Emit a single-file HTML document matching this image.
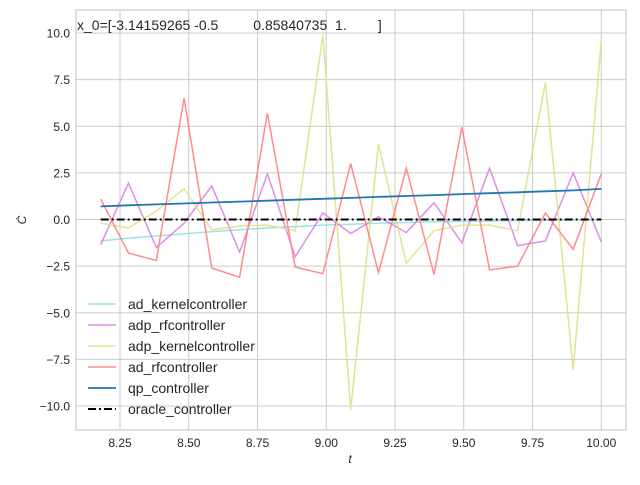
<!DOCTYPE html>
<html><head><meta charset="utf-8"><style>
body{margin:0;background:#fff}
svg text{font-family:"Liberation Sans","DejaVu Sans",sans-serif;}
</style></head><body>
<svg id="c" width="640" height="480" xmlns="http://www.w3.org/2000/svg"></svg>
<script>
const tVals=[8.18,8.281,8.382,8.483,8.584,8.685,8.786,8.887,8.988,9.089,9.19,9.291,9.392,9.493,9.594,9.696,9.797,9.898,10.0];
const adKernel=[-1.15,-1.0,-0.88,-0.77,-0.65,-0.55,-0.45,-0.38,-0.3,-0.25,-0.2,-0.16,-0.12,-0.1,-0.08,-0.06,-0.04,-0.02,-0.01];
const adpRf=[-1.35,1.95,-1.5,-0.2,1.8,-1.75,2.45,-2.0,0.35,-0.75,0.15,-0.7,0.9,-1.25,2.75,-1.4,-1.15,2.5,-1.2];
const adpKernel=[-0.2,-0.45,0.45,1.65,-0.55,-0.35,-0.3,-0.6,9.9,-10.2,4.05,-2.35,-0.6,-0.3,-0.3,-0.6,7.35,-8.05,9.6];
const adRf=[1.1,-1.8,-2.2,6.5,-2.6,-3.1,5.7,-2.55,-2.9,3.0,-2.85,2.75,-2.95,4.95,-2.7,-2.5,0.35,-1.6,2.45];
const qp=[0.7,0.76,0.81,0.86,0.91,0.96,1.01,1.06,1.11,1.16,1.21,1.26,1.31,1.36,1.41,1.46,1.51,1.56,1.64];
const oracle=[0,0,0,0,0,0,0,0,0,0,0,0,0,0,0,0,0,0,0];
const xTicks=[8.25,8.5,8.75,9.0,9.25,9.5,9.75,10.0];
const yTicks=[-10,-7.5,-5,-2.5,0,2.5,5,7.5,10];
const L=76,R=626,T=10,B=430;
const sx=v=>120+(v-8.25)*275;
const sy=v=>219.5-v*18.65;
const svg=document.getElementById('c');
const NS='http://www.w3.org/2000/svg';
function mk(tag,attrs,parent){const e=document.createElementNS(NS,tag);for(const k in attrs)e.setAttribute(k,attrs[k]);(parent||svg).appendChild(e);return e;}
const fmt=v=>(v<0?'\u2212':'')+Math.abs(v).toFixed(v%1===0&&Math.abs(v)>=10?1:(Math.abs(v)%1===0?1:(String(Math.abs(v)).split('.')[1]||'').length<2?1:2));
for(const v of xTicks){
 const g=mk('line',{x1:sx(v),x2:sx(v),y1:T,y2:B,stroke:'#cccccc','stroke-width':1});
 
 const t=mk('text',{x:sx(v),y:447,'text-anchor':'middle','font-size':12,fill:'#262626'});t.textContent=v.toFixed(2);
 
}
for(const v of yTicks){
 const g=mk('line',{x1:L,x2:R,y1:sy(v),y2:sy(v),stroke:'#cccccc','stroke-width':1});
 
 const t=mk('text',{x:70,y:sy(v)+4.5,'text-anchor':'end','font-size':12,fill:'#262626'});t.textContent=(v<0?'\u2212':'')+Math.abs(v).toFixed(1);
 
}
const fr=mk('rect',{x:L,y:T,width:R-L,height:B-T,fill:'none',stroke:'#cccccc','stroke-width':1.2});

const series=[
 ['ad_kernelcontroller',adKernel,'#7fdfe0',0.8,1.5,''],
 ['adp_rfcontroller',adpRf,'#d87be0',0.85,1.5,''],
 ['adp_kernelcontroller',adpKernel,'#e0e08a',0.9,1.5,''],
 ['ad_rfcontroller',adRf,'#ff8080',0.9,1.5,''],
 ['qp_controller',qp,'#1f77b4',1,1.8,''],
 ['oracle_controller',oracle,'#000000',1,2,'8,3,2,3']
];
series.forEach((s,i)=>{
 const pts=tVals.map((t,j)=>sx(t).toFixed(1)+','+sy(s[1][j]).toFixed(1)).join(' ');
 const p=mk('polyline',{points:pts,fill:'none',stroke:s[2],'stroke-opacity':s[3],'stroke-width':s[4]});
 if(s[5])p.setAttribute('stroke-dasharray',s[5]);
 
 const ly=304+i*21;
 const ll=mk('line',{x1:88,x2:116,y1:ly,y2:ly,stroke:s[2],'stroke-opacity':s[3],'stroke-width':s[4]});
 if(s[5])ll.setAttribute('stroke-dasharray',s[5]);
 
 const lt=mk('text',{x:128,y:ly+5,'font-size':14,fill:'#262626'});lt.textContent=s[0];
 
});
const ti=mk('text',{x:77,y:30,'font-size':14,fill:'#262626','xml:space':'preserve'});
ti.setAttribute('style','white-space:pre');
ti.textContent='x_0=[-3.14159265 -0.5         0.85840735  1.        ]';

const xl=mk('text',{x:350,y:463,'text-anchor':'middle','font-size':12,'font-style':'italic',fill:'#262626'});xl.textContent='t';

const yl=mk('text',{x:26,y:220,'text-anchor':'middle','font-size':12,'font-style':'italic',fill:'#262626',transform:'rotate(-90 26 220)'});yl.textContent='\u010A';

</script>
</body></html>
